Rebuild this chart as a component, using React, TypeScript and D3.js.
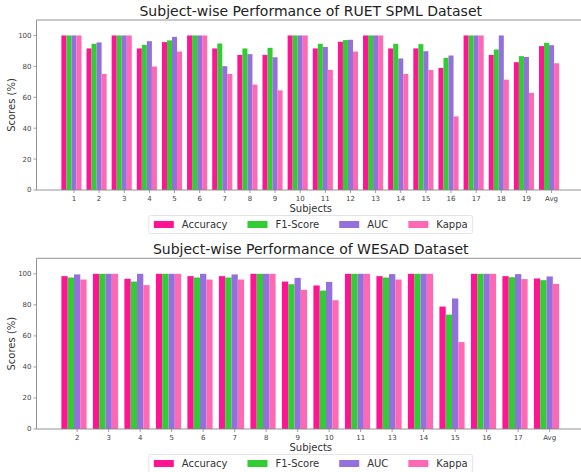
import React, { useMemo } from "react";
import * as d3 from "d3";

const seriesNames = ["Accuracy", "F1-Score", "AUC", "Kappa"];
const seriesColors = ["#ff1493", "#32cd32", "#9370db", "#ff69b4"];

const ruetSubjects = ["1","2","3","4","5","6","7","8","9","10","11","12","13","14","15","16","17","18","19","Avg"];
const ruetAccuracy = [100, 91.6, 100, 91.6, 95.7, 100, 91.6, 87.4, 87.4, 100, 91.6, 95.9, 100, 91.6, 91.6, 79.0, 100, 87.4, 82.7, 93.1];
const ruetF1 = [100, 94.6, 100, 93.9, 96.8, 100, 94.8, 91.6, 92.0, 100, 94.6, 97.0, 100, 94.6, 94.4, 85.5, 100, 90.9, 86.6, 95.2];
const ruetAUC = [100, 95.5, 100, 96.3, 99.1, 100, 80.1, 87.9, 85.9, 100, 92.6, 97.2, 100, 85.1, 89.8, 87.0, 100, 100, 86.1, 93.7];
const ruetKappa = [100, 75.1, 100, 79.9, 89.6, 100, 75.1, 68.2, 64.5, 100, 77.7, 89.6, 100, 75.1, 77.7, 47.6, 100, 71.4, 62.8, 82.0];

const wesadSubjects = ["2","3","4","5","6","7","8","9","10","11","13","14","15","16","17","Avg"];
const wesadAccuracy = [98.5, 100, 96.8, 100, 98.5, 98.5, 100, 95.0, 92.5, 100, 98.5, 100, 78.9, 100, 98.5, 97.0];
const wesadF1 = [97.6, 100, 95.0, 100, 97.6, 97.6, 100, 93.3, 89.2, 100, 97.6, 100, 73.7, 100, 97.8, 95.9];
const wesadAUC = [99.6, 100, 100, 100, 100, 99.6, 100, 97.4, 94.8, 100, 99.8, 100, 84.1, 100, 99.8, 98.3];
const wesadKappa = [96.3, 100, 92.7, 100, 96.3, 96.3, 100, 89.7, 83.0, 100, 96.3, 100, 56.0, 100, 96.6, 93.5];

const yTicks = [0, 20, 40, 60, 80, 100];

const FONT = "DejaVu Sans, sans-serif";
const W = 581;
const H = 472;
const AX_LEFT = 36.5;
const AX_RIGHT = 584;
const BAR_W = 0.2;

function measure(text: string, size: number): number {
  const c = document.createElement("canvas").getContext("2d");
  if (!c) return text.length * size * 0.6;
  c.font = `${size}px DejaVu Sans`;
  return c.measureText(text).width;
}

function Legend({ cy }: { cy: number }) {
  const fs = 10;
  const patchW = 20;
  const patchH = 7;
  const textPad = 8;
  const colSp = 20;
  const pad = 5;
  const widths = seriesNames.map((n) => measure(n, fs));
  const total =
    pad * 2 +
    widths.reduce((a, w) => a + patchW + textPad + w, 0) +
    colSp * (seriesNames.length - 1);
  const cx = (AX_LEFT + AX_RIGHT) / 2 + 0.5;
  const x0 = cx - total / 2;
  let x = x0 + pad;
  const items = seriesNames.map((n, i) => {
    const px = x;
    x += patchW + textPad + widths[i] + colSp;
    return (
      <g key={n}>
        <rect x={px} y={cy - patchH / 2} width={patchW} height={patchH} fill={seriesColors[i]} />
        <text x={px + patchW + textPad} y={cy} dy="0.35em" fontSize={fs} fontFamily={FONT} fill="#333">
          {n}
        </text>
      </g>
    );
  });
  return (
    <g>
      <rect x={x0} y={cy - 9} width={total} height={18} rx={2} fill="#fff" stroke="#ddd" strokeWidth={0.8} />
      {items}
    </g>
  );
}

function Panel({
  title,
  cats,
  values,
  top,
  bottom,
}: {
  title: string;
  cats: string[];
  values: number[][];
  top: number;
  bottom: number;
}) {
  const n = cats.length;
  const lo = -0.5;
  const hi = n - 1 + 0.3;
  const span = hi - lo;
  const x = d3.scaleLinear().domain([lo - 0.05 * span, hi + 0.05 * span]).range([AX_LEFT, AX_RIGHT]);
  const y = d3.scaleLinear().domain([0, 110]).range([bottom, top]);
  const bw = x(BAR_W) - x(0);
  return (
    <g>
      <text x={(AX_LEFT + AX_RIGHT) / 2 + 0.5} y={top - 4} textAnchor="middle" fontSize={14} fontFamily={FONT} fill="#222">
        {title}
      </text>
      {values.map((vals, j) =>
        vals.map((v, i) => (
          <rect
            key={`${j}-${i}`}
            x={x(i + (j - 2.5) * BAR_W)}
            y={y(v)}
            width={bw}
            height={y(0) - y(v)}
            fill={seriesColors[j]}
          />
        ))
      )}
      <line x1={AX_LEFT} x2={W} y1={top} y2={top} stroke="#888" strokeWidth={0.9} />
      <line x1={AX_LEFT} x2={W} y1={bottom} y2={bottom} stroke="#888" strokeWidth={0.9} />
      <line x1={AX_LEFT} x2={AX_LEFT} y1={top} y2={bottom} stroke="#888" strokeWidth={0.9} />
      {yTicks.map((t) => (
        <g key={t}>
          <line x1={AX_LEFT - 3} x2={AX_LEFT} y1={y(t)} y2={y(t)} stroke="#888" strokeWidth={0.8} />
          <text x={AX_LEFT - 5} y={y(t)} dy="0.35em" textAnchor="end" fontSize={7} fontFamily={FONT} fill="#444">
            {t}
          </text>
        </g>
      ))}
      {cats.map((c, i) => (
        <g key={c}>
          <line x1={x(i)} x2={x(i)} y1={bottom} y2={bottom + 3} stroke="#888" strokeWidth={0.8} />
          <text x={x(i)} y={bottom + 10.5} textAnchor="middle" fontSize={7} fontFamily={FONT} fill="#444">
            {c}
          </text>
        </g>
      ))}
      <text
        transform={`translate(15,${(top + bottom) / 2}) rotate(-90)`}
        textAnchor="middle"
        fontSize={10}
        fontFamily={FONT}
        fill="#333"
      >
        Scores (%)
      </text>
      <text x={(AX_LEFT + AX_RIGHT) / 2 + 0.5} y={bottom + 21.5} textAnchor="middle" fontSize={10} fontFamily={FONT} fill="#333">
        Subjects
      </text>
      <Legend cy={bottom + 34.5} />
    </g>
  );
}

export default function App() {
  const ruet = useMemo(() => [ruetAccuracy, ruetF1, ruetAUC, ruetKappa], []);
  const wesad = useMemo(() => [wesadAccuracy, wesadF1, wesadAUC, wesadKappa], []);
  return (
    <svg
      width={W}
      height={H}
      style={{ position: "absolute", left: 0, top: 0, background: "#fff" }}
    >
      <rect width={W} height={H} fill="#fff" />
      <Panel title="Subject-wise Performance of RUET SPML Dataset" cats={ruetSubjects} values={ruet} top={20} bottom={190} />
      <Panel title="Subject-wise Performance of WESAD Dataset" cats={wesadSubjects} values={wesad} top={258.3} bottom={429} />
    </svg>
  );
}
